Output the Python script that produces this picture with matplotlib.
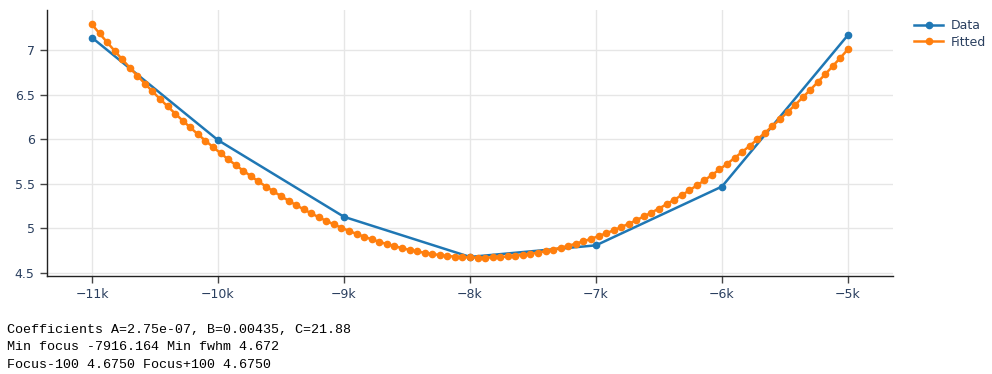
import matplotlib
matplotlib.use('Agg')
import matplotlib.pyplot as plt
from matplotlib.ticker import FuncFormatter
import numpy as np

# measured points
data_x = [-11000, -10000, -9000, -8000, -7000, -6000, -5000]
data_y = [7.14, 5.99, 5.13, 4.68, 4.81, 5.47, 7.17]

# fitted curve, sampled every 60 steps from -11k to -5k
fit_x = np.arange(-11000, -4999, 60)
fit_y = [
    7.288, 7.187, 7.088, 6.991, 6.896, 6.803, 6.713, 6.624, 6.537, 6.452,
    6.369, 6.288, 6.209, 6.132, 6.057, 5.984, 5.913, 5.844, 5.776, 5.711,
    5.648, 5.587, 5.528, 5.470, 5.415, 5.362, 5.311, 5.261, 5.214, 5.169,
    5.125, 5.084, 5.045, 5.007, 4.972, 4.938, 4.907, 4.877, 4.850, 4.824,
    4.801, 4.779, 4.759, 4.742, 4.726, 4.713, 4.701, 4.691, 4.683, 4.678,
    4.674, 4.672, 4.672, 4.675, 4.679, 4.685, 4.693, 4.703, 4.715, 4.729,
    4.745, 4.763, 4.783, 4.805, 4.829, 4.855, 4.883, 4.913, 4.945, 4.979,
    5.015, 5.052, 5.092, 5.134, 5.178, 5.223, 5.271, 5.321, 5.372, 5.426,
    5.482, 5.539, 5.599, 5.661, 5.724, 5.790, 5.857, 5.927, 5.998, 6.072,
    6.147, 6.225, 6.304, 6.385, 6.469, 6.554, 6.641, 6.731, 6.822, 6.915,
    7.010,
]

info_lines = [
    "Coefficients A=2.75e-07, B=0.00435, C=21.88",
    "Min focus -7916.164 Min fwhm 4.672",
    "Focus-100 4.6750 Focus+100 4.6750",
]

plt.rcParams['font.family'] = ['DejaVu Sans']

W, H = 992, 374
fig = plt.figure(figsize=(W / 100, H / 100), dpi=100, facecolor='white')
ax = fig.add_axes([47 / W, 1 - 276 / H, (893 - 47) / W, (276 - 10) / H])

ax.plot(data_x, data_y, color='#1f77b4', lw=1.8, marker='o', ms=4.5,
        label='Data', zorder=3)
ax.plot(fit_x, fit_y, color='#ff7f0e', lw=1.8, marker='o', ms=4.5,
        label='Fitted', zorder=4)

ax.set_xlim(-11357, -4643)
ax.set_ylim(4.466, 7.45)
ax.set_xticks(data_x)
ax.set_yticks([4.5, 5, 5.5, 6, 6.5, 7])
ax.xaxis.set_major_formatter(FuncFormatter(lambda v, p: '\u2212%dk' % abs(v / 1000)))
ax.yaxis.set_major_formatter(FuncFormatter(lambda v, p: ('%g' % v)))

ax.grid(True, color='#e6e6e6', lw=1)
ax.set_axisbelow(True)
for s in ['top', 'right']:
    ax.spines[s].set_visible(False)
for s in ['left', 'bottom']:
    ax.spines[s].set_color('#222222')
    ax.spines[s].set_linewidth(1)
ax.tick_params(length=5, width=1, color='#444444', labelcolor='#2a3f5f',
               labelsize=9, pad=4)

leg = fig.legend(loc='upper left', bbox_to_anchor=(914 / W, 1 - 19 / H),
                 frameon=False, handlelength=2.35,
                 handletextpad=0.55, labelspacing=0.3, borderaxespad=0,
                 borderpad=0, prop={'family': 'DejaVu Sans', 'size': 9})
for t in leg.get_texts():
    t.set_color('#2a3f5f')

for i, line in enumerate(info_lines):
    fig.text(7 / W, 1 - (330 + i * 17.5) / H, line, family='Liberation Mono',
             fontsize=9.6, color='black', va='center', ha='left')

fig.savefig('out.png', dpi=100, facecolor='white')
